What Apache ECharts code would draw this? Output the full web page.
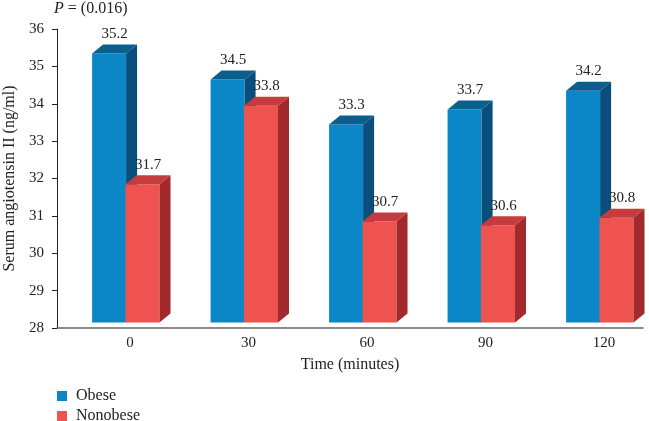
<!DOCTYPE html>
<html>
<head>
<meta charset="utf-8">
<script src="https://cdn.jsdelivr.net/npm/echarts@6/dist/echarts.min.js"></script>
<style>html,body{margin:0;padding:0;background:#fff}#c{width:649px;height:421px}</style>
</head>
<body>
<div id="c"></div>
<script>
var categories = ['0', '30', '60', '90', '120'];
var obese = [35.2, 34.5, 33.3, 33.7, 34.2];
var nonobese = [31.7, 33.8, 30.7, 30.6, 30.8];
var yTicks = [28, 29, 30, 31, 32, 33, 34, 35, 36];

var FONT = 'Liberation Serif';
var chart = echarts.init(document.getElementById('c'), null, {renderer: 'canvas'});

function makeRender(leftFrac, colors) {
  return function (params, api) {
    var x = api.value(0), v = api.value(1);
    var top = api.coord([x, v]);
    var base = api.coord([x, 28]);
    var unit = api.size([1, 0])[0];
    var lift = 5.5, dx = 11, dy = 9;
    var w = unit * 0.287;
    var left = top[0] + leftFrac * unit;
    var ty = top[1] - lift, by = base[1] - lift;
    return {
      type: 'group',
      children: [
        {type: 'rect', shape: {x: left, y: ty, width: w, height: by - ty}, style: {fill: colors[0]}},
        {type: 'polygon', shape: {points: [[left, ty], [left + dx, ty - dy], [left + w + dx, ty - dy], [left + w, ty]]}, style: {fill: colors[1]}},
        {type: 'polygon', shape: {points: [[left + w, ty], [left + w + dx, ty - dy], [left + w + dx, by - dy], [left + w, by]]}, style: {fill: colors[2]}},
        {type: 'text', style: {text: String(v), x: left + (w + dx) / 2, y: ty - dy - 3, align: 'center', verticalAlign: 'bottom', fill: '#222', font: '15px "' + FONT + '"'}}
      ]
    };
  };
}

var legendText = {fontFamily: FONT, fontSize: 16, color: '#222', padding: [0, 0, 0, 4]};
var option = {
  animation: false,
  backgroundColor: '#fff',
  title: {
    text: '{i|P} = (0.016)',
    left: 54, top: 0, padding: [1, 0, 0, 0],
    textStyle: {fontFamily: FONT, fontSize: 16, fontWeight: 'normal', color: '#222',
      rich: {i: {fontFamily: FONT, fontSize: 16, fontStyle: 'italic', color: '#222'}}}
  },
  legend: [
    {left: 57, top: 388, padding: 0, itemWidth: 10, itemHeight: 10, icon: 'rect', textStyle: legendText, data: ['Obese']},
    {left: 57, top: 408, padding: 0, itemWidth: 10, itemHeight: 10, icon: 'rect', textStyle: legendText, data: ['Nonobese']}
  ],
  grid: {left: 57, right: 6, top: 29, bottom: 93, containLabel: false, outerBoundsMode: 'none'},
  xAxis: {
    type: 'value', min: -0.616, max: 4.329,
    name: 'Time (minutes)', nameLocation: 'middle', nameGap: 29,
    nameTextStyle: {fontFamily: FONT, fontSize: 16, color: '#222'},
    axisLine: {show: true, onZero: false, lineStyle: {color: '#666', width: 1.5}},
    axisTick: {show: false},
    splitLine: {show: false},
    axisLabel: {
      customValues: [0, 1, 2, 3, 4],
      formatter: function (val) { return categories[Math.round(val)]; },
      fontFamily: FONT, fontSize: 15, color: '#222', margin: 8
    }
  },
  yAxis: {
    type: 'value', min: yTicks[0], max: yTicks[yTicks.length - 1], interval: 1,
    name: 'Serum angiotensin II (ng/ml)', nameLocation: 'middle', nameGap: 34,
    nameTextStyle: {fontFamily: FONT, fontSize: 16, color: '#222'},
    axisLine: {show: true, onZero: false, lineStyle: {color: '#222', width: 1}},
    axisTick: {show: true, length: 5, lineStyle: {color: '#222'}},
    splitLine: {show: false},
    axisLabel: {fontFamily: FONT, fontSize: 15, color: '#222', margin: 13}
  },
  series: [
    {
      name: 'Obese', type: 'custom', clip: false,
      itemStyle: {color: '#0b86c6'},
      renderItem: makeRender(-0.32, ['#0b86c6', '#0b5f8f', '#0a4f7b']),
      data: obese.map(function (v, i) { return [i, v]; })
    },
    {
      name: 'Nonobese', type: 'custom', clip: false,
      itemStyle: {color: '#ef5350'},
      renderItem: makeRender(-0.038, ['#ef5350', '#c43c3e', '#a2292c']),
      data: nonobese.map(function (v, i) { return [i, v]; })
    }
  ]
};
chart.setOption(option);
</script>
</body>
</html>
